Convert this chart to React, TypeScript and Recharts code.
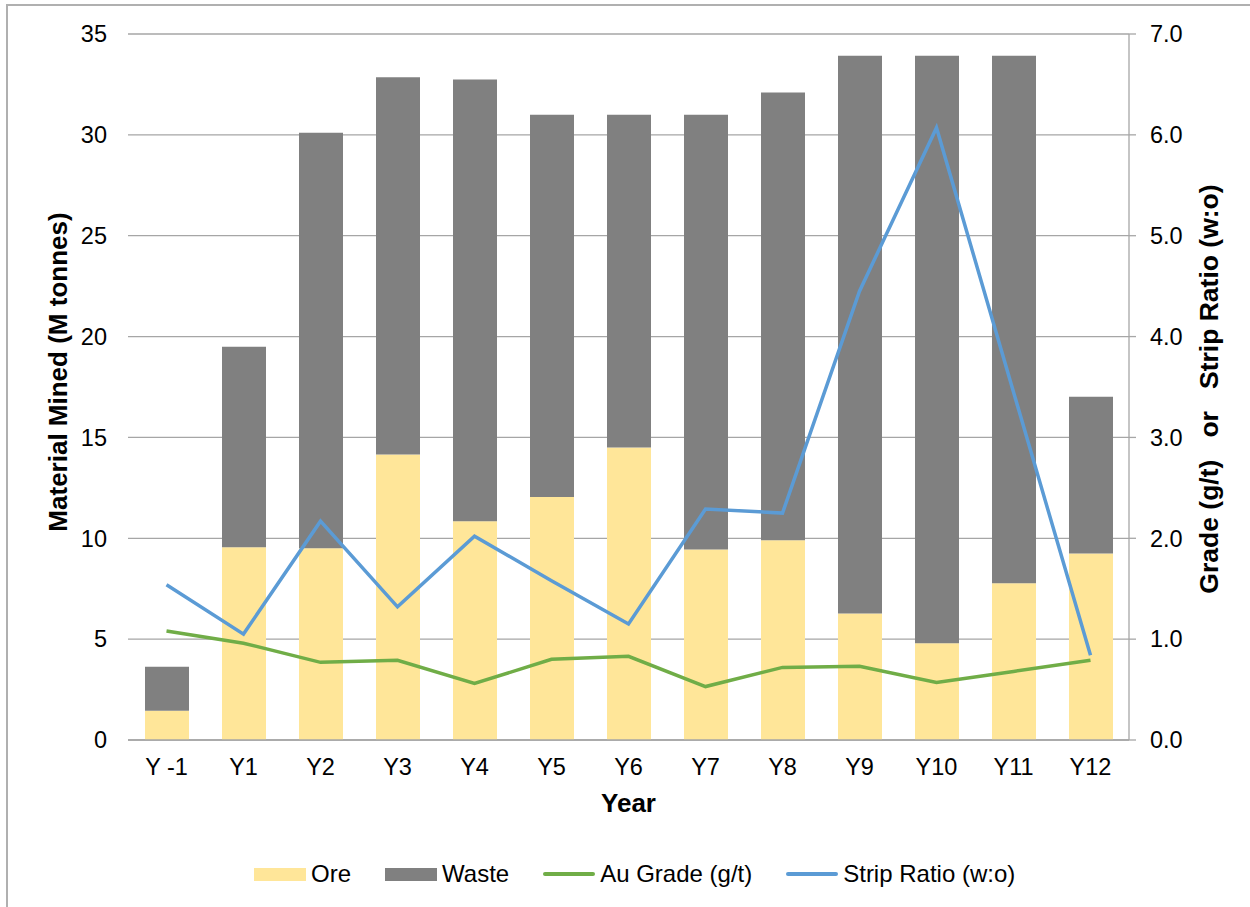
import {
  ComposedChart,
  Bar,
  Line,
  XAxis,
  YAxis,
  CartesianGrid,
  Legend,
} from "recharts";

const years = ["Y -1", "Y1", "Y2", "Y3", "Y4", "Y5", "Y6", "Y7", "Y8", "Y9", "Y10", "Y11", "Y12"];
const ore = [1.45, 9.55, 9.5, 14.15, 10.85, 12.05, 14.5, 9.45, 9.9, 6.27, 4.8, 7.77, 9.24];
const waste = [2.18, 9.95, 20.6, 18.7, 21.9, 18.95, 16.5, 21.55, 22.2, 27.65, 29.12, 26.15, 7.78];
const auGrade = [1.08, 0.96, 0.77, 0.79, 0.56, 0.8, 0.83, 0.53, 0.72, 0.73, 0.57, 0.68, 0.79];
const stripRatio = [1.54, 1.05, 2.17, 1.32, 2.02, 1.58, 1.15, 2.29, 2.25, 4.45, 6.07, 3.45, 0.84];

const leftTicks = [0, 5, 10, 15, 20, 25, 30, 35];
const rightTicks = [0, 1, 2, 3, 4, 5, 6, 7];

const data = years.map((year, i) => ({
  year,
  ore: ore[i],
  waste: waste[i],
  grade: auGrade[i],
  strip: stripRatio[i],
}));

const FONT = '"Liberation Sans", Arial, sans-serif';
const GRID = "#a6a6a6";
const ORE = "#ffe699";
const WASTE = "#808080";
const GREEN = "#70ad47";
const BLUE = "#5b9bd5";

const legendItems = [
  { name: "Ore", color: ORE, kind: "box" },
  { name: "Waste", color: WASTE, kind: "box" },
  { name: "Au Grade (g/t)", color: GREEN, kind: "line" },
  { name: "Strip Ratio (w:o)", color: BLUE, kind: "line" },
];

function renderLegend() {
  return (
    <div style={{ display: "flex", alignItems: "center", fontFamily: FONT, fontSize: 24, color: "#000" }}>
      {legendItems.map((it) => (
        <div key={it.name} style={{ display: "flex", alignItems: "center", marginRight: 34 }}>
          <div
            style={{
              width: 52,
              height: it.kind === "box" ? 13 : 4,
              background: it.color,
              borderRadius: it.kind === "line" ? 2 : 0,
              marginRight: 5,
            }}
          />
          <span>{it.name}</span>
        </div>
      ))}
    </div>
  );
}

export default function App() {
  return (
    <div style={{ position: "absolute", left: 0, top: 0, width: 1250, height: 907, background: "#fff" }}>
      <div
        style={{
          position: "absolute",
          left: 6,
          top: 4,
          width: 1242,
          height: 901,
          borderTop: "2px solid #b0b0b0",
          borderLeft: "2px solid #b0b0b0",
        }}
      />
      <ComposedChart
        width={1250}
        height={907}
        data={data}
        margin={{ top: 34, right: 0, bottom: 57, left: 0 }}
        barSize={44}
        style={{ position: "absolute", left: 0, top: 0 }}
      >
        <CartesianGrid vertical={false} stroke={GRID} strokeWidth={1.3} yAxisId="left" />
        <XAxis
          dataKey="year"
          height={80}
          tickLine={false}
          tickSize={0}
          tickMargin={18}
          axisLine={{ stroke: GRID, strokeWidth: 1.3 }}
          tick={{ fill: "#000", fontSize: 23.5, fontFamily: FONT }}
          label={{
            value: "Year",
            position: "insideBottom",
            offset: 8,
            style: { fontFamily: FONT, fontSize: 26, fontWeight: "bold", fill: "#000" },
          }}
        />
        <YAxis
          yAxisId="left"
          width={128}
          domain={[0, 35]}
          ticks={leftTicks}
          axisLine={false}
          tickLine={false}
          tickSize={0}
          tickMargin={21}
          tick={{ fill: "#000", fontSize: 23.5, fontFamily: FONT }}
          label={{
            content: () => (
              <text
                x={58}
                y={372}
                transform="rotate(-90 58 372)"
                textAnchor="middle"
                dominantBaseline="central"
                style={{ fontFamily: FONT, fontSize: 26, fontWeight: "bold", fill: "#000" }}
              >
                Material Mined (M tonnes)
              </text>
            ),
          }}
        />
        <YAxis
          yAxisId="right"
          orientation="right"
          width={121}
          domain={[0, 7]}
          ticks={rightTicks}
          tickFormatter={(v: number) => v.toFixed(1)}
          axisLine={{ stroke: GRID, strokeWidth: 1.3 }}
          tickLine={{ stroke: GRID, strokeWidth: 1.3 }}
          tickSize={7}
          tickMargin={14}
          tick={{ fill: "#000", fontSize: 23.5, fontFamily: FONT }}
          label={{
            content: () => (
              <text
                x={1209}
                y={389}
                transform="rotate(-90 1209 389)"
                textAnchor="middle"
                dominantBaseline="central"
                style={{ fontFamily: FONT, fontSize: 26.5, fontWeight: "bold", fill: "#000", whiteSpace: "pre" }}
              >
                {"Grade (g/t)   or   Strip Ratio (w:o)"}
              </text>
            ),
          }}
        />
        <Bar yAxisId="left" dataKey="ore" name="Ore" stackId="m" fill={ORE} isAnimationActive={false} />
        <Bar yAxisId="left" dataKey="waste" name="Waste" stackId="m" fill={WASTE} isAnimationActive={false} />
        <Line
          yAxisId="right"
          dataKey="grade"
          name="Au Grade (g/t)"
          type="linear"
          stroke={GREEN}
          strokeWidth={3.5}
          dot={false}
          isAnimationActive={false}
        />
        <Line
          yAxisId="right"
          dataKey="strip"
          name="Strip Ratio (w:o)"
          type="linear"
          stroke={BLUE}
          strokeWidth={3.5}
          dot={false}
          isAnimationActive={false}
        />
        <Legend
          content={renderLegend}
          wrapperStyle={{ top: 860, left: 254, width: 900, height: 30 }}
        />
      </ComposedChart>
    </div>
  );
}
